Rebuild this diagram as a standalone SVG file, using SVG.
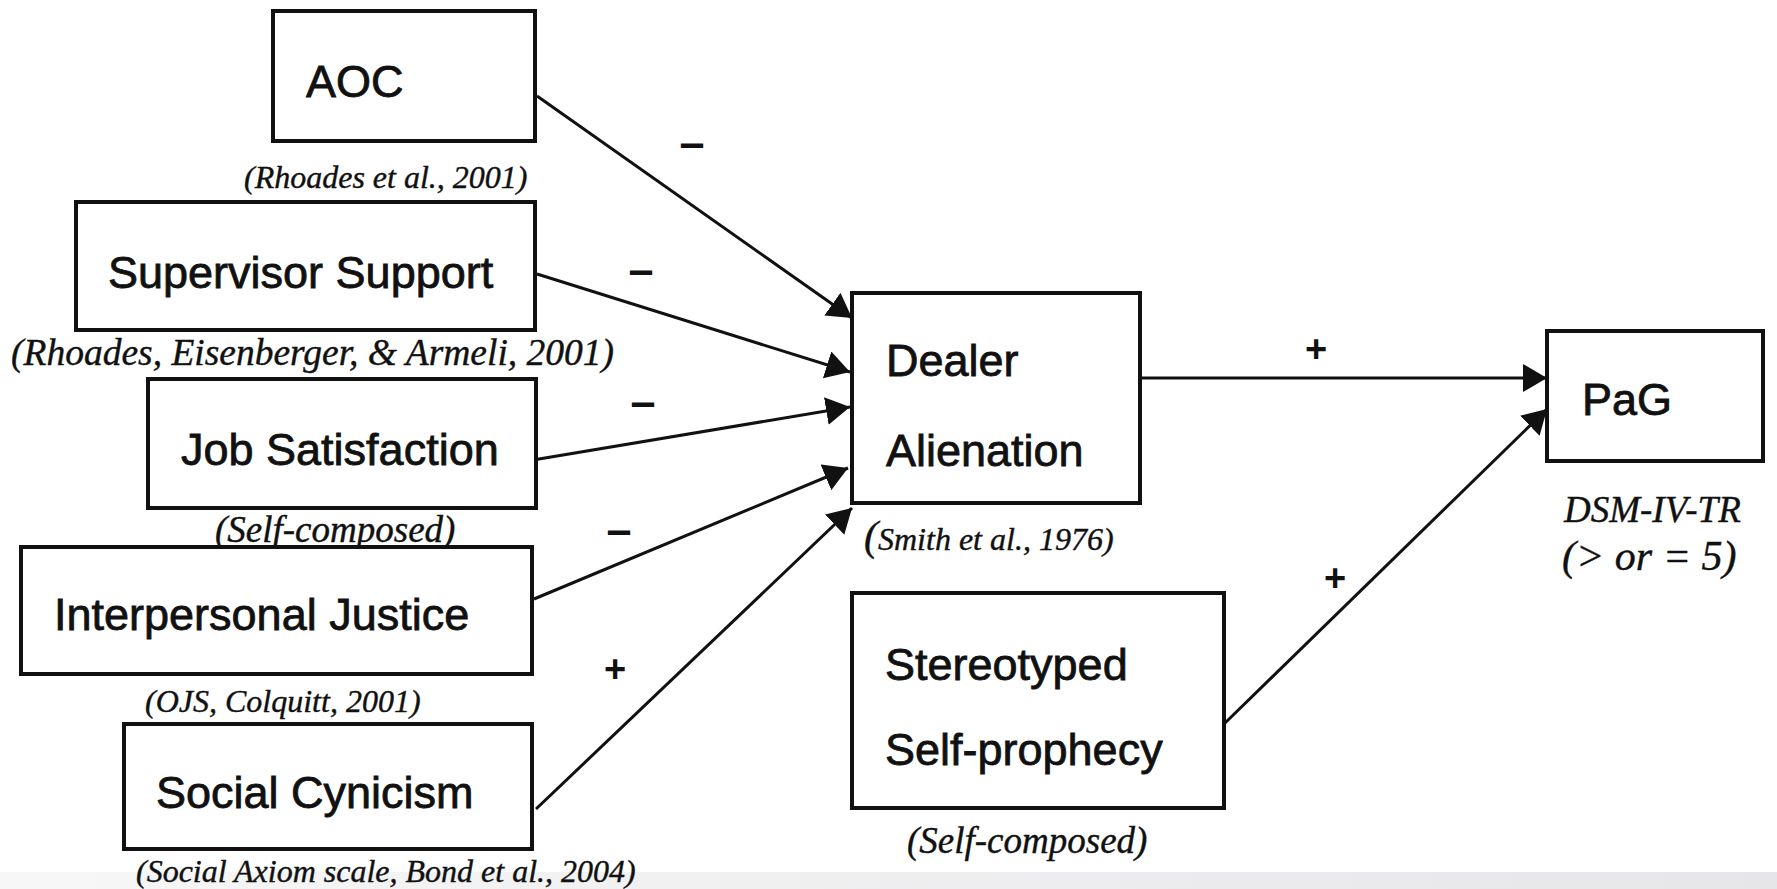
<svg xmlns="http://www.w3.org/2000/svg" width="1777" height="889" viewBox="0 0 1777 889">
<style>
.box{fill:#fff;stroke:#111;stroke-width:4}
.lbl{font-family:"Liberation Sans",Arial,sans-serif;font-size:45px;fill:#111;stroke:#111;stroke-width:0.8}
.cite{font-family:"Liberation Serif","Times New Roman",serif;font-style:italic;fill:#111;stroke:#111;stroke-width:0.4}
.conn{stroke:#111;stroke-width:3;fill:none;marker-end:url(#arr)}
.sign{font-family:"Liberation Sans",Arial,sans-serif;font-weight:bold;fill:#111;text-anchor:middle}
</style>
<defs>
<marker id="arr" markerUnits="userSpaceOnUse" markerWidth="25" markerHeight="29" refX="24" refY="14" orient="auto">
<path d="M0,0 L24,14 L0,28 z" fill="#111"/>
</marker>
<linearGradient id="strip" x1="0" y1="0" x2="1" y2="0">
<stop offset="0" stop-color="#f7f7f7"/>
<stop offset="1" stop-color="#e6e6e9"/>
</linearGradient>
</defs>
<rect x="0" y="0" width="1777" height="889" fill="#fff"/>
<rect x="0" y="872" width="1777" height="17" fill="url(#strip)"/>

<g id="connectors">
<line class="conn" x1="537" y1="96" x2="852" y2="318"/>
<line class="conn" x1="537" y1="274" x2="850" y2="372"/>
<line class="conn" x1="533" y1="460" x2="850" y2="407"/>
<line class="conn" x1="534" y1="599" x2="848" y2="468"/>
<line class="conn" x1="536" y1="809" x2="852" y2="508"/>
<line class="conn" x1="1142" y1="378" x2="1547" y2="378"/>
<line class="conn" x1="1225" y1="723" x2="1547" y2="409"/>
<text class="sign" x="692" y="158" font-size="45">–</text>
<text class="sign" x="641" y="285" font-size="45">–</text>
<text class="sign" x="643" y="417" font-size="45">–</text>
<text class="sign" x="619" y="545" font-size="45">–</text>
<text class="sign" x="615" y="682" font-size="38">+</text>
<text class="sign" x="1316" y="362" font-size="38">+</text>
<text class="sign" x="1335" y="591" font-size="38">+</text>
</g>

<g id="aoc">
<rect class="box" x="273" y="11" width="262" height="130"/>
<text class="lbl" x="306" y="97">AOC</text>
<text class="cite" x="244" y="188" font-size="32">(Rhoades et al., 2001)</text>
</g>
<g id="supervisor-support">
<rect class="box" x="76" y="202" width="459" height="128"/>
<text class="lbl" x="108" y="288">Supervisor Support</text>
<text class="cite" x="11" y="365" font-size="37.5">(Rhoades, Eisenberger, &amp; Armeli, 2001)</text>
</g>
<g id="job-satisfaction">
<rect class="box" x="148" y="379" width="388" height="129"/>
<text class="lbl" x="181" y="465">Job Satisfaction</text>
<text class="cite" x="215" y="542" font-size="37">(Self-composed)</text>
</g>
<g id="interpersonal-justice">
<rect class="box" x="21" y="547" width="511" height="127"/>
<text class="lbl" x="54" y="630">Interpersonal Justice</text>
<text class="cite" x="145" y="712" font-size="32">(OJS, Colquitt, 2001)</text>
</g>
<g id="social-cynicism">
<rect class="box" x="124" y="724" width="408" height="125"/>
<text class="lbl" x="156" y="808">Social Cynicism</text>
<text class="cite" x="136" y="882" font-size="32">(Social Axiom scale, Bond et al., 2004)</text>
</g>
<g id="dealer-alienation">
<rect class="box" x="852" y="293" width="288" height="210"/>
<text class="lbl" x="886" y="376">Dealer</text>
<text class="lbl" x="886" y="466">Alienation</text>
<text class="cite" x="864" y="550"><tspan font-size="42">(</tspan><tspan font-size="32">Smith et al., 1976)</tspan></text>
</g>
<g id="stereotyped-self-prophecy">
<rect class="box" x="852" y="593" width="372" height="215"/>
<text class="lbl" x="885" y="680">Stereotyped</text>
<text class="lbl" x="885" y="765">Self-prophecy</text>
<text class="cite" x="907" y="853" font-size="37">(Self-composed)</text>
</g>
<g id="pag">
<rect class="box" x="1547" y="331" width="216" height="130"/>
<text class="lbl" x="1582" y="415">PaG</text>
<text class="cite" x="1564" y="522" font-size="37">DSM-IV-TR</text>
<text class="cite" x="1562" y="570" font-size="42">(&gt; or = 5)</text>
</g>
</svg>
